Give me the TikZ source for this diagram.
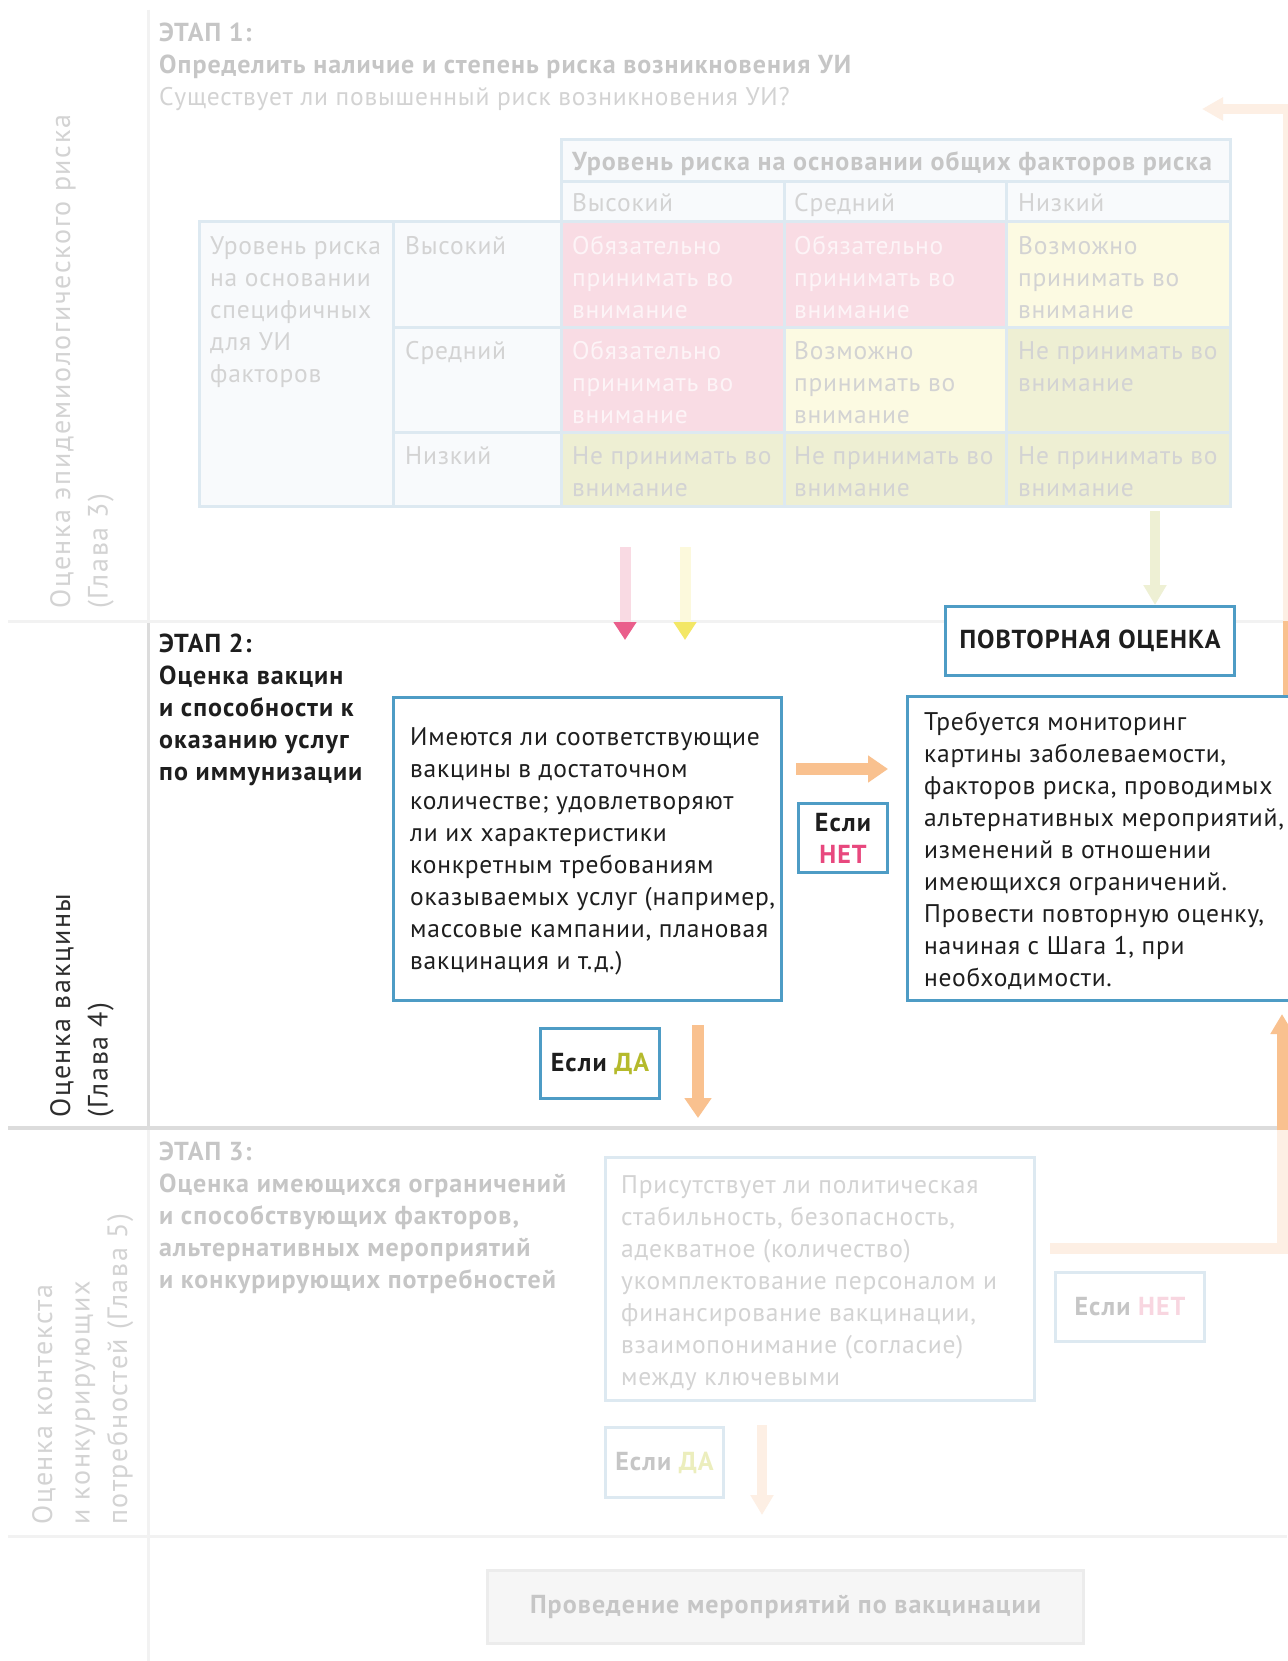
\documentclass[tikz,border=0pt]{standalone}
\usepackage{fontspec}
\setmainfont{PT Sans}
\newfontfamily\bodyfam{PT Sans}[LetterSpace=3]
\newfontfamily\headfam{PT Sans}[LetterSpace=4]
\newfontfamily\sidefam{PT Sans}[LetterSpace=6]
\usetikzlibrary{arrows.meta}

\definecolor{ink}{HTML}{1E1E1E}
\definecolor{boxblue}{HTML}{4E9CC5}
\definecolor{paleblue}{HTML}{DDE9F1}
\definecolor{cellbg}{HTML}{F8FAFC}
\definecolor{cellpink}{HTML}{F9DCE4}
\definecolor{cellyellow}{HTML}{FCFAE2}
\definecolor{cellolive}{HTML}{EEEFD3}
\definecolor{fadetxt}{HTML}{D3D3D3}
\definecolor{fadehead}{HTML}{C6C6C6}
\definecolor{pinktxt}{HTML}{FDF4F7}
\definecolor{arrorange}{HTML}{F9C18F}
\definecolor{paleorange}{HTML}{FDEFE4}
\definecolor{palepink}{HTML}{F9DAE3}
\definecolor{pinkhead}{HTML}{EA5E8B}
\definecolor{nettxt}{HTML}{E8487E}
\definecolor{fadenet}{HTML}{F8D6E0}
\definecolor{yellowhead}{HTML}{F3E766}
\definecolor{paleyellow}{HTML}{FCF9DC}
\definecolor{paleolive}{HTML}{EEF0D4}
\definecolor{datxt}{HTML}{B5BA2C}
\definecolor{fadeda}{HTML}{ECEEBD}
\definecolor{lightrule}{HTML}{F2F2F2}
\definecolor{darkrule}{HTML}{DCDCDC}
\definecolor{sidegray}{HTML}{2E2E2E}
\definecolor{finalbg}{HTML}{F6F6F6}
\definecolor{finalrule}{HTML}{ECECEC}

\newcommand\bodyfont{\bodyfam\fontsize{25.5}{32}\selectfont}
\newcommand\headfont{\headfam\fontsize{26}{32}\selectfont\bfseries}
\newcommand\sidefont{\sidefam\fontsize{28}{37.5}\selectfont}
\newcommand\fl{\rule{0pt}{26pt}}
\newcommand\sidestrut{\rule{0pt}{30pt}}

\begin{document}
\begin{tikzpicture}[x=1pt,y=-1pt,
  txt/.style={inner sep=0pt, anchor=north west, align=left, font=\bodyfont},
  headtxt/.style={inner sep=0pt, anchor=north west, align=left, font=\headfont},
  side/.style={inner sep=0pt, anchor=north west, align=left, rotate=90, font=\sidefont},
  bluebox/.style={draw=boxblue, line width=3pt, fill=white, inner sep=0pt, anchor=north west},
  palebox/.style={draw=paleblue, line width=3pt, fill=white, inner sep=0pt, anchor=north west},
  tag/.style={inner sep=0pt, align=center, font=\headfont},
  fat/.style={line width=12pt, -{Triangle[length=20pt,width=26pt]}},
  thin/.style={line width=10pt, -{Triangle[length=20pt,width=22pt]}}
]
\useasboundingbox (0,0) rectangle (1287,1661);
\fill[white] (0,0) rectangle (1287,1661);

% ---------- lane separators ----------
\draw[lightrule, line width=3pt] (148,10) -- (148,621);
\draw[darkrule, line width=3pt] (148,621) -- (148,1128);
\draw[lightrule, line width=3pt] (148,1128) -- (148,1661);
\draw[lightrule, line width=3pt] (8,621) -- (1287,621);
\draw[darkrule, line width=4pt] (8,1128) -- (1287,1128);
\draw[lightrule, line width=3pt] (8,1536) -- (1287,1536);

% ---------- lane titles ----------
\node[side, text=fadetxt] (lane1) at (40,609)
  {\sidestrut Оценка эпидемиологического риска\\(Глава 3)};
\node[side, text=sidegray] (lane2) at (40,1118)
  {\sidestrut Оценка вакцины\\(Глава 4)};
\node[side, text=fadetxt] (lane3) at (22,1525)
  {\sidestrut Оценка контекста\\и конкурирующих\\потребностей (Глава 5)};

% ---------- stage 1 ----------
\node[txt, text=fadehead] (s1) at (159,15)
  {\fl{\headfont ЭТАП 1:}\\{\headfont Определить наличие и степень риска возникновения УИ}\\\textcolor{fadetxt}{Существует ли повышенный риск возникновения УИ?}};

% risk matrix: cell fills
\fill[cellbg] (561,140) rectangle (1230,222);
\fill[cellbg] (199,222) rectangle (561,506);
\fill[cellpink] (561,222) rectangle (784,327);
\fill[cellpink] (784,222) rectangle (1006,327);
\fill[cellyellow] (1006,222) rectangle (1230,327);
\fill[cellpink] (561,327) rectangle (784,432);
\fill[cellyellow] (784,327) rectangle (1006,432);
\fill[cellolive] (1006,327) rectangle (1230,432);
\fill[cellolive] (561,432) rectangle (1230,506);
% risk matrix: grid
\begin{scope}[paleblue, line width=3pt]
\draw (561,140) rectangle (1230,222);
\draw (561,182) -- (1230,182);
\draw (784,182) -- (784,222);
\draw (1006,182) -- (1006,222);
\draw (199,222) rectangle (1230,506);
\draw (393,327) -- (1230,327);
\draw (393,432) -- (1230,432);
\foreach \cx in {393,561,784,1006} \draw (\cx,222) -- (\cx,506);
\end{scope}

% risk matrix: texts
\node[headtxt, text=fadehead] (colhead) at (572,144) {\fl Уровень риска на основании общих факторов риска};
\node[txt, text=fadetxt] (cHigh) at (572,185) {\fl Высокий};
\node[txt, text=fadetxt] (cMid) at (794,185) {\fl Средний};
\node[txt, text=fadetxt] (cLow) at (1018,185) {\fl Низкий};
\node[txt, text=fadetxt] (rowhead) at (210,228) {\fl Уровень риска\\на основании\\специфичных\\для УИ\\факторов};
\node[txt, text=fadetxt] (rHigh) at (405,228) {\fl Высокий};
\node[txt, text=fadetxt] (rMid) at (405,333) {\fl Средний};
\node[txt, text=fadetxt] (rLow) at (405,438) {\fl Низкий};

\node[txt, text=pinktxt] (c11) at (572,228) {\fl Обязательно\\принимать во\\внимание};
\node[txt, text=pinktxt] (c12) at (794,228) {\fl Обязательно\\принимать во\\внимание};
\node[txt, text=fadetxt] (c13) at (1018,228) {\fl Возможно\\принимать во\\внимание};
\node[txt, text=pinktxt] (c21) at (572,333) {\fl Обязательно\\принимать во\\внимание};
\node[txt, text=fadetxt] (c22) at (794,333) {\fl Возможно\\принимать во\\внимание};
\node[txt, text=fadetxt] (c23) at (1018,333) {\fl Не принимать во\\внимание};
\node[txt, text=fadetxt] (c31) at (572,438) {\fl Не принимать во\\внимание};
\node[txt, text=fadetxt] (c32) at (794,438) {\fl Не принимать во\\внимание};
\node[txt, text=fadetxt] (c33) at (1018,438) {\fl Не принимать во\\внимание};

% arrows leaving the matrix
\coordinate (pinkA) at (625,547);  \coordinate (pinkB) at (625,640);
\coordinate (yelA) at (685,547);   \coordinate (yelB) at (685,640);
\coordinate (oliveA) at (1155,511);
\draw[palepink, line width=11pt, -{Triangle[length=18pt,width=22pt,color=pinkhead]}] (pinkA) -- (pinkB);
\draw[paleyellow, line width=11pt, -{Triangle[length=18pt,width=22pt,color=yellowhead]}] (yelA) -- (yelB);

% ---------- stage 2 ----------
\node[headtxt, text=ink] (s2) at (159,626)
  {\fl ЭТАП 2:\\Оценка вакцин\\и способности к\\оказанию услуг\\по иммунизации};

\node[bluebox, minimum width=388pt, minimum height=303pt] (q2) at (392,696) {};
\node[txt, text=ink] (q2t) at (410,719)
  {\fl Имеются ли соответствующие\\вакцины в достаточном\\количестве; удовлетворяют\\ли их характеристики\\конкретным требованиям\\оказываемых услуг (например,\\массовые кампании, плановая\\вакцинация и т.д.)};

\node[bluebox, minimum width=289pt, minimum height=69pt] (redo) at (944,605)
  {\headfont\color{ink}ПОВТОРНАЯ ОЦЕНКА};
\draw[paleolive, thin] (oliveA) -- (redo.north -| oliveA);

% feedback loop on the right edge (behind the monitoring box)
\coordinate (loopTop) at (1288,109);
\coordinate (loopTip) at (1202,109);
\draw[paleorange, line width=10pt, -{Triangle[length=21pt,width=22pt]}] (1288,623) -- (loopTop) -- (loopTip);
\draw[arrorange, line width=10pt] (1288,700) -- (1288,621);

\node[bluebox, minimum width=400pt, minimum height=304pt] (mon) at (906,695) {};
\node[txt, text=ink] (mont) at (924,704)
  {\fl Требуется мониторинг\\картины заболеваемости,\\факторов риска, проводимых\\альтернативных мероприятий,\\изменений в отношении\\имеющихся ограничений.\\Провести повторную оценку,\\начиная с Шага 1, при\\необходимости.};

\coordinate (noA) at (796,769);  \coordinate (noB) at (888,769);
\draw[arrorange, fat] (noA) -- (noB);
\node[bluebox, minimum width=89pt, minimum height=69pt] (no2) at (797,802) {};
\node[tag] at (no2.center) {\color{ink}Если\\\color{nettxt}НЕТ};

\node[bluebox, minimum width=119pt, minimum height=70pt] (yes2) at (539,1027) {};
\node[tag] at (yes2.center) {\color{ink}Если \color{datxt}ДА};
\coordinate (yesA) at (698,1025);  \coordinate (yesB) at (698,1118);
\draw[arrorange, fat] (yesA) -- (yesB);

% ---------- stage 3 ----------
\node[headtxt, text=fadehead] (s3) at (159,1134)
  {\fl ЭТАП 3:\\Оценка имеющихся ограничений\\и способствующих факторов,\\альтернативных мероприятий\\и конкурирующих потребностей};

\node[palebox, minimum width=429pt, minimum height=243pt] (q3) at (604,1156) {};
\node[txt, text=fadetxt] (q3t) at (621,1167)
  {\fl Присутствует ли политическая\\стабильность, безопасность,\\адекватное (количество)\\укомплектование персоналом и\\финансирование вакцинации,\\взаимопонимание (согласие)\\между ключевыми};

\node[palebox, minimum width=149pt, minimum height=69pt] (no3) at (1054,1271) {};
\node[tag] at (no3.center) {\color{fadehead}Если \color{fadenet}НЕТ};

% return path from stage 3 to the monitoring box
\coordinate (backA) at (1050,1248);
\coordinate (backC) at (1282,1248);
\coordinate (backTip) at (1282,1014);
\draw[paleorange, line width=11pt] (backA) -- (backC) -- (1282,1126);
\draw[arrorange, line width=11pt, -{Triangle[length=20pt,width=22pt]}] (1282,1130) -- (backTip);

\node[palebox, minimum width=118pt, minimum height=70pt] (yes3) at (604,1426) {};
\node[tag] at (yes3.center) {\color{fadehead}Если \color{fadeda}ДА};
\coordinate (downA) at (762,1425);  \coordinate (downB) at (762,1515);
\draw[paleorange, thin] (downA) -- (downB);

% ---------- final step ----------
\node[draw=finalrule, fill=finalbg, line width=3pt, minimum width=596pt, minimum height=73pt, anchor=north west, inner sep=0pt] (final) at (486,1569)
  {\headfont\color{fadehead}Проведение мероприятий по вакцинации};

\end{tikzpicture}
\end{document}
